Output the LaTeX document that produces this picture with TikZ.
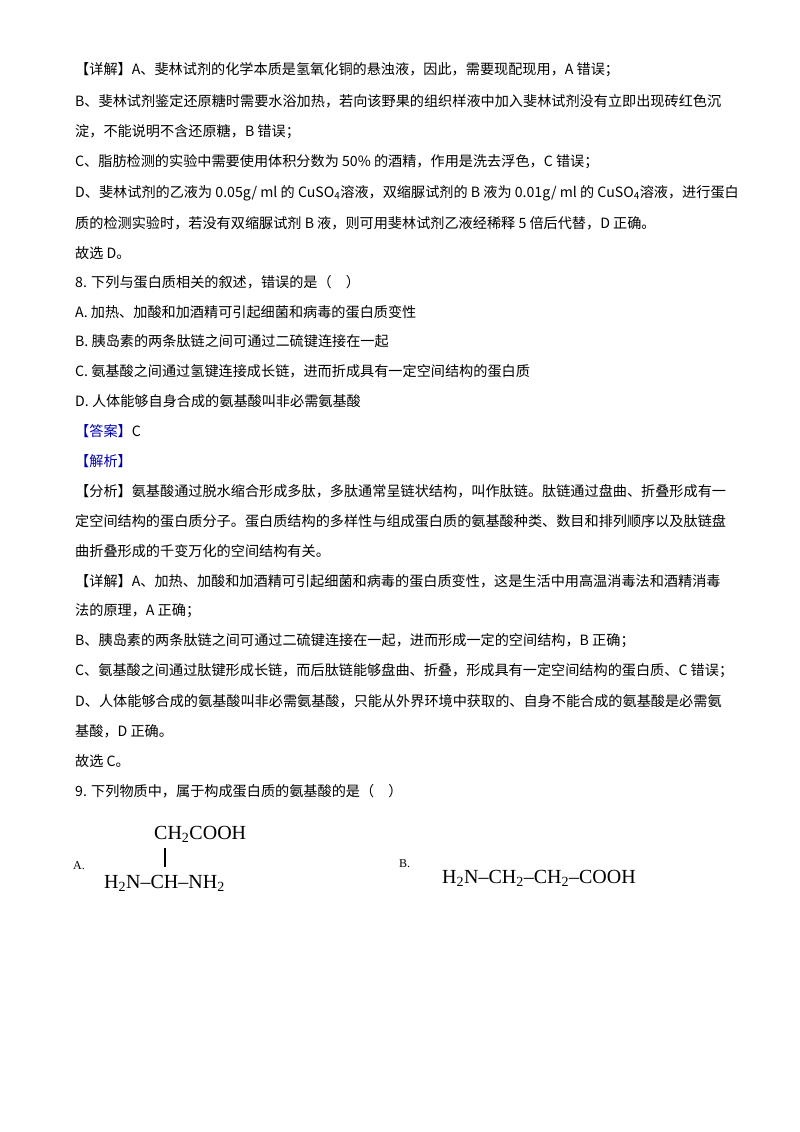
\documentclass[tikz,border=0pt]{standalone}
\usepackage{fontspec}
\setmainfont{Noto Sans CJK SC}
\newfontfamily\lat{Liberation Serif}
\begin{document}
\begin{tikzpicture}[x=1pt,y=-1pt,
  ln/.style={anchor=west,inner sep=0pt,font=\fontsize{14.15}{16}\selectfont},
  fm/.style={inner sep=0pt,font=\lat\fontsize{20}{22}\selectfont}]
\useasboundingbox[fill=white] (0,0) rectangle (800,1132);
\node[ln] (l1) at (75,70) {【详解】A、斐林试剂的化学本质是氢氧化铜的悬浊液，因此，需要现配现用，A 错误；};
\node[ln] (l2) at (75,101) {B、斐林试剂鉴定还原糖时需要水浴加热，若向该野果的组织样液中加入斐林试剂没有立即出现砖红色沉};
\node[ln] (l3) at (75,132) {淀，不能说明不含还原糖，B 错误；};
\node[ln] (l4) at (75,162) {C、脂肪检测的实验中需要使用体积分数为 50\% 的酒精，作用是洗去浮色，C 错误；};
\node[ln] (l5) at (75,193) {D、斐林试剂的乙液为 0.05g/ ml 的 CuSO\textsubscript{4}溶液，双缩脲试剂的 B 液为 0.01g/ ml 的 CuSO\textsubscript{4}溶液，进行蛋白};
\node[ln] (l6) at (75,223) {质的检测实验时，若没有双缩脲试剂 B 液，则可用斐林试剂乙液经稀释 5 倍后代替，D 正确。};
\node[ln] (l7) at (75,253) {故选 D。};
\node[ln] (l8) at (75,282) {8. 下列与蛋白质相关的叙述，错误的是（\quad ）};
\node[ln] (l9) at (75,312) {A. 加热、加酸和加酒精可引起细菌和病毒的蛋白质变性};
\node[ln] (l10) at (75,341) {B. 胰岛素的两条肽链之间可通过二硫键连接在一起};
\node[ln] (l11) at (75,371) {C. 氨基酸之间通过氢键连接成长链，进而折成具有一定空间结构的蛋白质};
\node[ln] (l12) at (75,401) {D. 人体能够自身合成的氨基酸叫非必需氨基酸};
\node[ln] (l13) at (75,431) {{\color{blue!70!black}【答案】}C};
\node[ln] (l14) at (75,461) {{\color{blue!70!black}【解析】}};
\node[ln] (l15) at (75,491) {【分析】氨基酸通过脱水缩合形成多肽，多肽通常呈链状结构，叫作肽链。肽链通过盘曲、折叠形成有一};
\node[ln] (l16) at (75,521) {定空间结构的蛋白质分子。蛋白质结构的多样性与组成蛋白质的氨基酸种类、数目和排列顺序以及肽链盘};
\node[ln] (l17) at (75,551) {曲折叠形成的千变万化的空间结构有关。};
\node[ln] (l18) at (75,581) {【详解】A、加热、加酸和加酒精可引起细菌和病毒的蛋白质变性，这是生活中用高温消毒法和酒精消毒};
\node[ln] (l19) at (75,611) {法的原理，A 正确；};
\node[ln] (l20) at (75,641) {B、胰岛素的两条肽链之间可通过二硫键连接在一起，进而形成一定的空间结构，B 正确；};
\node[ln] (l21) at (75,671) {C、氨基酸之间通过肽键形成长链，而后肽链能够盘曲、折叠，形成具有一定空间结构的蛋白质、C 错误；};
\node[ln] (l22) at (75,701) {D、人体能够合成的氨基酸叫非必需氨基酸，只能从外界环境中获取的、自身不能合成的氨基酸是必需氨};
\node[ln] (l23) at (75,731) {基酸，D 正确。};
\node[ln] (l24) at (75,761) {故选 C。};
\node[ln] (l25) at (75,791) {9. 下列物质中，属于构成蛋白质的氨基酸的是（\quad ）};
\node[inner sep=0pt,anchor=west,font=\lat\fontsize{12}{14}\selectfont] (la) at (73,866) {A.};
\node[fm,anchor=west] (fa1) at (154,834) {CH\textsubscript{2}COOH};
\node[fm,anchor=west] (fa2) at (104,883) {H\textsubscript{2}N–CH–NH\textsubscript{2}};
\draw[line width=1.4pt] (165,848) -- (165,867);
\node[inner sep=0pt,anchor=west,font=\lat\fontsize{12}{14}\selectfont] (lb) at (399,864) {B.};
\node[fm,anchor=west] (fb) at (442,878) {H\textsubscript{2}N–CH\textsubscript{2}–CH\textsubscript{2}–COOH};
\end{tikzpicture}
\end{document}
